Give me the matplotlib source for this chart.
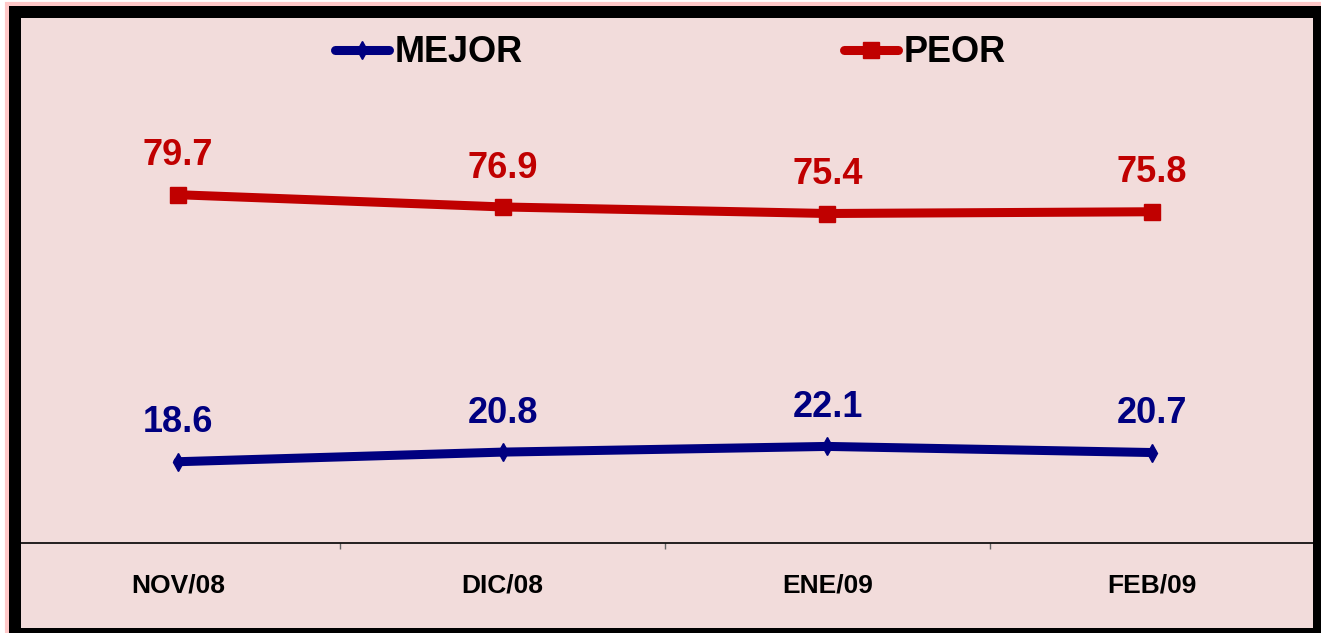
import matplotlib.pyplot as plt
from matplotlib.patches import Rectangle

# datos
meses = ['NOV/08', 'DIC/08', 'ENE/09', 'FEB/09']
mejor = [18.6, 20.8, 22.1, 20.7]
peor = [79.7, 76.9, 75.4, 75.8]

plt.rcParams['font.family'] = ['Liberation Sans', 'DejaVu Sans']
plt.rcParams['font.weight'] = 'bold'

W, H = 1321, 633
fig = plt.figure(figsize=(W / 100, H / 100), dpi=100, facecolor='white')

# marco negro y borde rosa
fig.patches.append(Rectangle((7 / W, 0), (W - 7) / W, (H - 4) / H, transform=fig.transFigure,
                             facecolor='none', edgecolor='#ffc8c8', linewidth=3, zorder=-2))
fig.patches.append(Rectangle((9 / W, 0), (W - 9) / W, (H - 6) / H, transform=fig.transFigure,
                             facecolor='black', edgecolor='none', zorder=-1))

ax = fig.add_axes([21 / W, 5 / H, (1313 - 21) / W, (628 - 18) / H])
ax.set_facecolor('#f2dcdb')
for s in ax.spines.values():
    s.set_visible(False)

x = list(range(len(meses)))
ax.plot(x, mejor, color='#000080', lw=6.5, marker='d', ms=9, solid_capstyle='round',
        label='MEJOR')
ax.plot(x, peor, color='#c00000', lw=6.5, marker='s', ms=11, solid_capstyle='round',
        label='PEOR')

for xi, v in zip(x, mejor):
    ax.annotate(f'{v:.1f}', (xi, v), xytext=(0, 28), textcoords='offset points',
                ha='center', va='center', fontsize=26, fontweight='bold', color='#000080')
for xi, v in zip(x, peor):
    ax.annotate(f'{v:.1f}', (xi, v), xytext=(0, 28), textcoords='offset points',
                ha='center', va='center', fontsize=26, fontweight='bold', color='#c00000')

# escala: px por unidad
ppu = 4.37
ax.set_ylim(-(628 - 543) / ppu, (543 - 18) / ppu)
ax.set_xlim(-0.483, 3.495)

# eje x en y=0
ax.spines['bottom'].set_visible(True)
ax.spines['bottom'].set_position(('data', 0))
ax.spines['bottom'].set_color('black')
ax.spines['bottom'].set_linewidth(1.2)

ax.set_yticks([])
ax.set_xticks(x)
ax.set_xticklabels(meses, fontsize=19, fontweight='bold')
ax.tick_params(axis='x', which='major', length=0, pad=22)
ax.set_xticks([0.5, 1.5, 2.5], minor=True)
ax.tick_params(axis='x', which='minor', length=4.5, width=1, color='#666666', direction='out')

ax.legend(loc='center', bbox_to_anchor=(670 / W, 1 - 53 / H), bbox_transform=fig.transFigure,
          ncol=2, frameon=False, handlelength=1.5, handletextpad=0.15,
          columnspacing=8.9, prop={'weight': 'bold', 'size': 26})

fig.savefig('out.png', dpi=100, facecolor=fig.get_facecolor())
